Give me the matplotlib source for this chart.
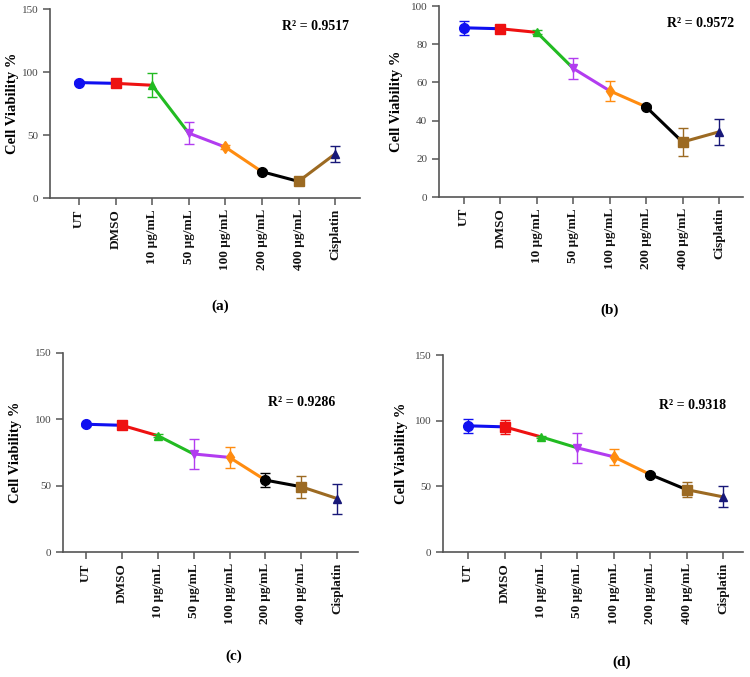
import numpy as np
import matplotlib
matplotlib.use("Agg")
from matplotlib import pyplot as plt

plt.rcParams['font.family'] = ['Liberation Serif', 'DejaVu Serif']

groups = ["UT", "DMSO", "10 µg/mL", "50 µg/mL", "100 µg/mL", "200 µg/mL", "400 µg/mL", "Cisplatin"]
colors = ["#1010f0", "#ee1111", "#22bb22", "#b23cf0", "#ff8c10", "#000000", "#9c6a22", "#181878"]
markers = ["o", "s", "^", "v", "d", "o", "s", "^"]

# panel (a)
via_a = [91.6, 91.0, 89.5, 51.5, 40.4, 20.9, 13.2, 35.0]
err_a = [1.0, 3.0, 9.5, 8.5, 1.5, 1.0, 1.0, 6.2]
# panel (b)
via_b = [88.6, 88.1, 86.2, 67.3, 55.6, 47.2, 28.8, 34.1]
err_b = [3.8, 1.5, 1.0, 5.5, 5.4, 0.8, 7.2, 6.8]
# panel (c)
via_c = [96.3, 95.5, 87.7, 73.9, 71.3, 54.2, 49.2, 40.3]
err_c = [1.0, 3.0, 1.0, 11.0, 7.7, 5.3, 8.3, 11.3]
# panel (d)
via_d = [96.1, 95.3, 87.7, 79.3, 72.5, 59.0, 47.5, 42.0]
err_d = [5.4, 5.5, 1.0, 11.7, 5.9, 1.0, 5.5, 8.0]

r2 = ["0.9517", "0.9572", "0.9286", "0.9318"]
letters = ["(a)", "(b)", "(c)", "(d)"]

fig = plt.figure(figsize=(7.5, 6.77), dpi=100)

panels = [
    # data, err, axes rect, xlim, yticks, r2 pos, ylabel x, letter pos
    (via_a, err_a, [0.0667, 0.7075, 0.4133, 0.2792], (-0.79, 7.68), [0, 50, 100, 150], (0.858, 0.905), -0.10, (0.293, 0.548)),
    (via_b, err_b, [0.5853, 0.7090, 0.4053, 0.2821], (-0.69, 7.66), [0, 20, 40, 60, 80, 100], (0.859, 0.911), -0.118, (0.813, 0.542)),
    (via_c, err_c, [0.0840, 0.1846, 0.3933, 0.2940], (-0.64, 7.58), [0, 50, 100, 150], (0.81, 0.75), -0.14, (0.311, 0.030)),
    (via_d, err_d, [0.5907, 0.1846, 0.4000, 0.2910], (-0.69, 7.55), [0, 50, 100, 150], (0.833, 0.746), -0.117, (0.829, 0.022)),
]

x = np.arange(len(groups))
for i, (v, e, rect, xl, yt, rpos, ylx, lpos) in enumerate(panels):
    ax = fig.add_axes(rect)
    # coloured segments, each in the colour of its starting point
    for k in range(len(x) - 1):
        ax.plot(x[k:k + 2], v[k:k + 2], color=colors[k], lw=2.2, zorder=2)
    for k in range(len(x)):
        ax.errorbar(x[k], v[k], yerr=e[k], color=colors[k], marker=markers[k],
                    ms=7 if markers[k] in "os" else 6, capsize=3.5, elinewidth=1, capthick=1,
                    zorder=3)
    ax.set_xlim(*xl)
    ax.set_ylim(0, yt[-1])
    ax.set_yticks(yt)
    ax.set_xticks(x)
    ax.set_xticklabels(groups, rotation=90, fontsize=9.5, fontweight='bold')
    for s in ["top", "right"]:
        ax.spines[s].set_visible(False)
    for s in ["left", "bottom"]:
        ax.spines[s].set_color("#555555")
        ax.spines[s].set_linewidth(1.2)
    ax.tick_params(axis='both', colors="#555555", length=5, width=1.1)
    ax.tick_params(axis='x', labelcolor='#111111', pad=3)
    ax.tick_params(axis='y', labelsize=8, labelcolor="#444444")
    ax.set_ylabel("Cell Viability %", fontsize=10.5, fontweight='bold')
    ax.yaxis.set_label_coords(ylx, 0.5)
    ax.text(rpos[0], rpos[1], "R² = " + r2[i], transform=ax.transAxes,
            ha='center', va='center', fontsize=10, fontweight='bold')
    fig.text(lpos[0], lpos[1], letters[i], ha='center', va='center',
             fontsize=11, fontweight='bold')

fig.savefig("out.png", dpi=100)
